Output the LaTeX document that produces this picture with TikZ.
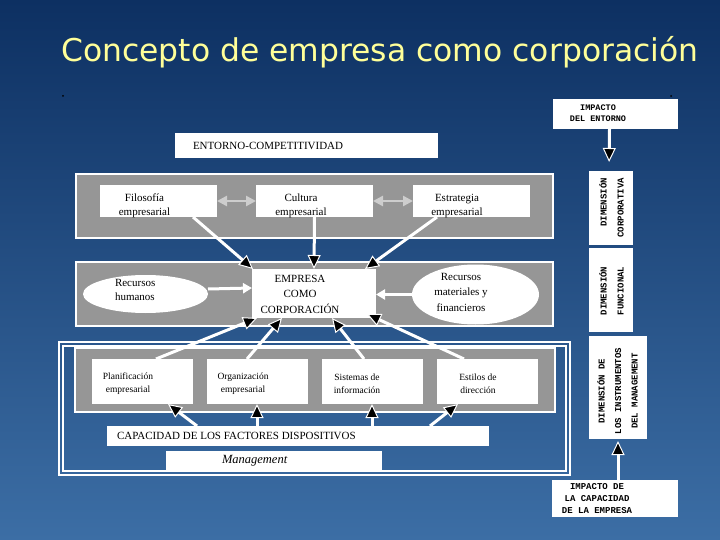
\documentclass[tikz,border=0pt]{standalone}
\usepackage{fontspec}
\setmainfont{Liberation Serif}
\newfontfamily\monofont{Liberation Mono}
\newfontfamily\titlefont{DejaVu Sans}
\usetikzlibrary{arrows.meta,shapes.geometric}
\definecolor{bgtop}{RGB}{13,48,98}
\definecolor{bgbot}{RGB}{60,110,165}
\definecolor{bandgray}{RGB}{150,150,150}
\definecolor{titleyellow}{RGB}{255,255,153}
\definecolor{dblgray}{RGB}{205,205,205}
\tikzset{
  wbox/.style={fill=white, draw=none, inner sep=0pt, outer sep=0pt},
  bandbox/.style={fill=bandgray, draw=white, line width=1.5pt, inner sep=0pt, outer sep=0pt},
  ellbox/.style={ellipse, fill=white, draw=none, inner sep=0pt, outer sep=0pt},
  sertxt/.style={text=black, inner sep=0pt, outer sep=0pt, align=center, font=\fontsize{11}{14}\selectfont},
  smalltxt/.style={text=black, inner sep=0pt, outer sep=0pt, align=center, font=\fontsize{9.5}{13}\selectfont},
  monotxt/.style={text=black, inner sep=0pt, outer sep=0pt, align=center, font=\monofont\bfseries\fontsize{8.5}{11}\selectfont},
  dimtxt/.style={text=black, inner sep=0pt, outer sep=0pt, rotate=90, font=\monofont\bfseries\fontsize{9}{17}\selectfont},
  conn/.style={draw=white, line width=3pt, -{Triangle[length=14pt,width=13pt,fill=black,line width=1pt]}},
  wconn/.style={draw=white, line width=3pt, -{Triangle[length=9pt,width=10pt,fill=white]}},
  dbl/.style={draw=dblgray, line width=2.5pt, {Triangle[length=10pt,width=10pt,fill=dblgray]}-{Triangle[length=10pt,width=10pt,fill=dblgray]}},
  framel/.style={draw=white, line width=1.5pt}
}
\begin{document}
\begin{tikzpicture}[x=1pt,y=-1pt]
\shade[top color=bgtop, bottom color=bgbot] (0,0) rectangle (720,540);
\useasboundingbox (0,0) rectangle (720,540);

% title
\node[anchor=base west, text=titleyellow, inner sep=0pt, font=\titlefont\fontsize{31.4}{36}\selectfont] (title) at (61,62) {Concepto de empresa como corporación};
\fill[black] (63,96) circle (1);
\fill[black] (671,96) circle (1);

% top boxes
\node[wbox, minimum width=125pt, minimum height=30pt] (imp) at (615.5,114) {};
\node[monotxt] (impt) at (598,113) {IMPACTO\\DEL ENTORNO};
\node[wbox, minimum width=263pt, minimum height=25pt] (ent) at (306.5,145.5) {};
\node[sertxt, anchor=west] (entt) at (193,145.5) {ENTORNO-COMPETITIVIDAD};

% bands
\node[bandbox, minimum width=477pt, minimum height=64pt] (band1) at (314.5,206) {};
\node[bandbox, minimum width=477pt, minimum height=64pt] (band2) at (314.5,294) {};
\draw[framel] (59,342) rectangle (570,475);
\draw[framel] (63,346) rectangle (566,471);
\node[bandbox, minimum width=480pt, minimum height=64pt] (band3) at (315,380) {};

% row 1
\node[wbox, minimum width=117pt, minimum height=32pt] (filo) at (158.5,201) {};
\node[wbox, minimum width=117pt, minimum height=32pt] (cult) at (314.5,201) {};
\node[wbox, minimum width=117pt, minimum height=32pt] (estr) at (471.5,201) {};
\node[sertxt] (filot) at (144.5,206) {Filosofía\\empresarial};
\node[sertxt] (cultt) at (301,206) {Cultura\\empresarial};
\node[sertxt] (estrt) at (457,206) {Estrategia\\empresarial};

% row 2
\node[wbox, minimum width=124pt, minimum height=49pt] (emp) at (314,293.5) {};
\node[sertxt, font=\fontsize{11}{15.5}\selectfont] (empt) at (300,294) {EMPRESA\\COMO\\CORPORACIÓN};
\node[ellbox, minimum width=125pt, minimum height=38pt] (hum) at (145.5,294) {};
\node[sertxt, anchor=west, align=left] (humt) at (115,290) {Recursos\\humanos};
\node[ellbox, minimum width=127pt, minimum height=60pt] (mat) at (475.5,294.5) {};
\node[sertxt, font=\fontsize{11}{15.5}\selectfont] (matt) at (461,292) {Recursos\\materiales y\\financieros};

% row 3
\node[wbox, minimum width=101pt, minimum height=45pt] (plan) at (142,381.5) {};
\node[wbox, minimum width=101pt, minimum height=45pt] (org) at (257,381.5) {};
\node[wbox, minimum width=101pt, minimum height=45pt] (sis) at (372,381.5) {};
\node[wbox, minimum width=101pt, minimum height=45pt] (est) at (487.5,381.5) {};
\node[smalltxt] (plant) at (128,383.5) {Planificación\\empresarial};
\node[smalltxt] (orgt) at (243,383.5) {Organización\\empresarial};
\node[smalltxt] (sist) at (357,383.5) {Sistemas de\\información};
\node[smalltxt] (estt) at (478,383.5) {Estilos de\\dirección};

\node[wbox, minimum width=382pt, minimum height=20pt] (cap) at (298,436) {};
\node[sertxt, anchor=west] (capt) at (117,436) {CAPACIDAD DE LOS FACTORES DISPOSITIVOS};
\node[wbox, minimum width=216pt, minimum height=20pt] (man) at (274,461) {};
\node[sertxt, anchor=west, font=\itshape\fontsize{12.5}{14}\selectfont] (mant) at (222,461) {Management};

% right column
\node[wbox, minimum width=44pt, minimum height=74pt] (dimc) at (611,208) {};
\node[dimtxt, align=right, anchor=east] (dimct) at (611.5,178) {DIMENSIÓN\\CORPORATIVA};
\node[wbox, minimum width=44pt, minimum height=84pt] (dimf) at (611,290) {};
\node[dimtxt, align=center] (dimft) at (611.5,291) {DIMENSIÓN\\FUNCIONAL};
\node[wbox, minimum width=58pt, minimum height=103pt] (dimi) at (618,387.5) {};
\node[dimtxt, align=center, font=\monofont\bfseries\fontsize{9}{16.5}\selectfont] (dimit) at (617.5,391) {DIMENSIÓN DE\\LOS INSTRUMENTOS\\DEL MANAGEMENT};
\node[wbox, minimum width=126pt, minimum height=37pt] (impcap) at (615,498.5) {};
\node[monotxt, font=\monofont\bfseries\fontsize{9}{12}\selectfont] (impcapt) at (597,499) {IMPACTO DE\\LA CAPACIDAD\\DE LA EMPRESA};

% connectors
\draw[dbl] (filo.east) -- (cult.west);
\draw[dbl] (cult.east) -- (estr.west);
\draw[conn, shorten >=9pt] ([xshift=-6pt]imp.south) -- ([xshift=-2pt]dimc.north);
\draw[conn] ([xshift=34.5pt]filo.south) -- ([xshift=1pt]emp.north west);
\draw[conn] (cult.south) -- (emp.north);
\draw[conn] ([xshift=-34.5pt]estr.south) -- ([xshift=-11pt]emp.north east);
\draw[wconn] ([yshift=5pt]hum.east) -- ([yshift=5.5pt]emp.west);
\draw[wconn] (mat.west) -- (mat.west -| emp.east);
\draw[conn] ([xshift=14pt]plan.north) -- ([xshift=5pt]emp.south west);
\draw[conn] ([xshift=-10pt]org.north) -- ([xshift=30pt]emp.south west);
\draw[conn] ([xshift=-8pt]sis.north) -- ([xshift=-44pt]emp.south east);
\draw[conn] ([xshift=-23.5pt]est.north) -- ([xshift=-9pt,yshift=4pt]emp.south east);
\draw[conn] ([xshift=-101pt]cap.north) -- ([xshift=26pt]plan.south);
\draw[conn] (org.south |- cap.north) -- (org.south);
\draw[conn] (sis.south |- cap.north) -- (sis.south);
\draw[conn] ([xshift=132pt]cap.north) -- ([xshift=-29.5pt]est.south);
\draw[conn, shorten >=2pt] ([xshift=3pt]impcap.north) -- (dimi.south);
\end{tikzpicture}
\end{document}
